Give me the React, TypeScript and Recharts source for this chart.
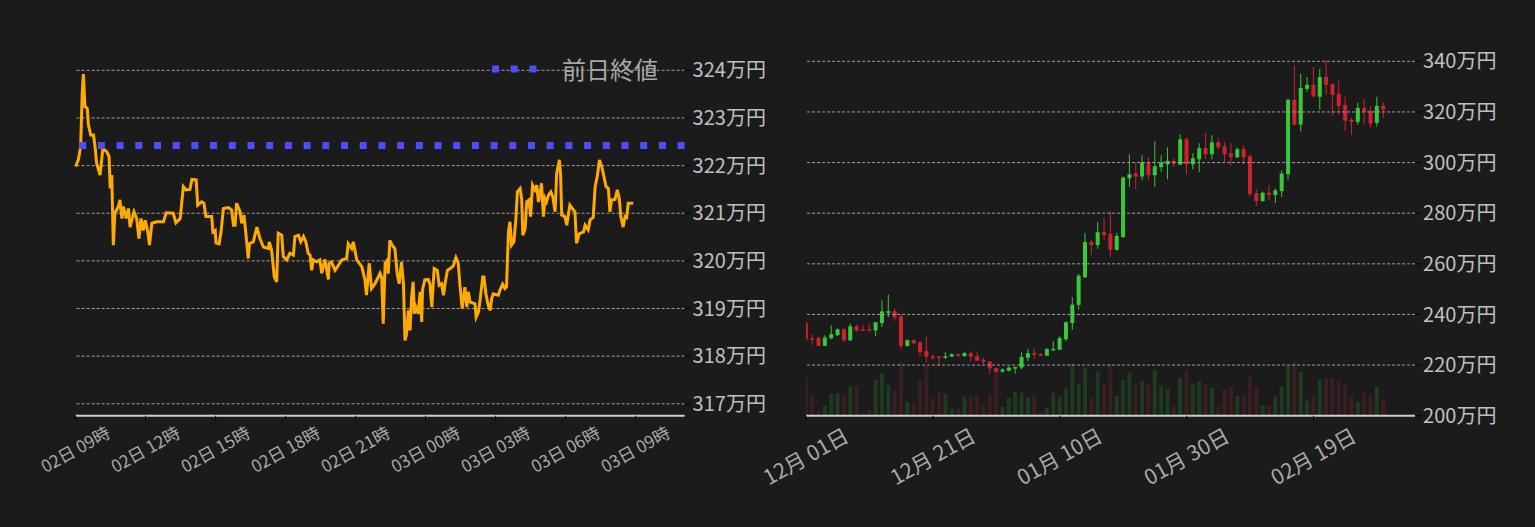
import {
  Bar,
  Cell,
  ComposedChart,
  Line,
  LineChart,
  ReferenceLine,
  XAxis,
  YAxis,
} from "recharts";

// ---- intraday (left) : minutes after 02日 09:00, price in 万円 ----
const minutes = [
  0, 7, 13, 17, 20, 24, 30, 33, 39, 46, 50, 54, 63, 70, 80, 86, 89, 93, 97, 101,
  110, 114, 119, 123, 130, 136, 140, 150, 157, 163, 168, 174, 179, 185, 190, 196, 209, 226, 233, 251,
  258, 269, 277, 284, 294, 299, 310, 314, 324, 330, 335, 350, 353, 359, 361, 369, 374, 380, 393, 401,
  406, 410, 414, 423, 427, 433, 437, 444, 447, 457, 466, 474, 483, 496, 498, 504, 511, 517, 521, 530,
  534, 543, 551, 560, 564, 573, 579, 586, 592, 598, 603, 607, 611, 620, 628, 633, 641, 650, 652, 658,
  667, 676, 684, 697, 701, 710, 714, 723, 736, 744, 748, 755, 761, 770, 783, 787, 791, 796, 802, 804,
  808, 814, 821, 827, 832, 838, 843, 847, 851, 856, 860, 864, 868, 871, 875, 881, 886, 890, 892, 898,
  907, 911, 916, 922, 930, 935, 941, 946, 950, 956, 963, 971, 978, 984, 988, 994, 1001, 1006, 1010, 1014,
  1027, 1030, 1036, 1040, 1047, 1050, 1055, 1061, 1066, 1070, 1074, 1087, 1091, 1098, 1104, 1108, 1113, 1117, 1121, 1127,
  1132, 1136, 1143, 1147, 1150, 1156, 1160, 1166, 1170, 1175, 1181, 1186, 1190, 1194, 1198, 1203, 1207, 1211, 1216, 1222,
  1227, 1233, 1237, 1244, 1247, 1250, 1258, 1263, 1267, 1271, 1280, 1284, 1288, 1295, 1306, 1310, 1318, 1323, 1331, 1336,
  1342, 1347, 1353, 1357, 1364, 1370, 1374, 1378, 1387, 1393, 1398, 1402, 1408, 1413, 1417, 1421, 1434,
];
const prices = [
  321.98, 322.12, 322.4, 323.52, 323.92, 323.24, 323.2, 322.85, 322.64, 322.64, 322.4, 322.05, 321.8, 322.36, 322.29, 322.19, 321.52, 321.8, 320.33, 321.0,
  321.14, 321.28, 320.89, 321.14, 320.89, 321.1, 320.71, 321.03, 320.89, 320.47, 320.89, 320.64, 320.85, 320.64, 320.33, 320.79, 320.82, 320.82, 321.01, 321.0,
  320.8, 320.89, 321.56, 321.49, 321.5, 321.71, 321.7, 321.17, 321.24, 321.21, 320.93, 320.93, 320.61, 320.64, 320.38, 320.36, 320.61, 321.1, 321.12, 321.07,
  320.75, 320.75, 321.21, 321.03, 320.79, 320.96, 320.64, 320.05, 320.36, 320.4, 320.71, 320.47, 320.29, 320.26, 320.4, 320.23, 319.66, 319.56, 320.58, 320.54,
  320.09, 320.02, 320.16, 320.12, 320.51, 320.54, 320.4, 320.51, 320.4, 320.16, 320.12, 319.8, 320.02, 319.98, 320.02, 319.74, 320.03, 319.61, 319.95, 319.98,
  319.8, 319.91, 320.02, 320.05, 320.36, 320.26, 320.4, 320.02, 319.88, 319.6, 319.28, 319.95, 319.42, 319.52, 319.74, 319.66, 318.68, 319.95, 320.02, 319.73,
  320.43, 320.33, 320.26, 319.73, 319.52, 319.98, 319.52, 318.33, 318.47, 318.96, 318.54, 319.24, 319.56, 318.89, 319.03, 318.89, 319.35, 318.72, 319.39, 319.6,
  319.61, 319.52, 319.03, 319.84, 319.8, 319.49, 319.52, 319.28, 319.52, 319.8, 319.84, 319.89, 320.07, 319.95, 319.52, 319.0, 319.45, 319.03, 319.35, 319.14,
  319.1, 318.82, 318.93, 319.17, 319.66, 319.66, 319.31, 319.07, 318.96, 319.21, 319.31, 319.28, 319.38, 319.51, 319.42, 319.45, 320.61, 320.82, 320.33, 320.4,
  320.86, 321.45, 321.52, 321.31, 320.54, 320.68, 321.24, 321.28, 320.93, 321.59, 321.49, 321.59, 321.24, 321.38, 321.63, 320.93, 321.31, 321.24, 321.38, 321.45,
  321.35, 321.03, 321.83, 322.12, 321.83, 320.96, 320.93, 320.75, 320.96, 321.17, 321.07, 321.03, 320.37, 320.57, 320.61, 320.75, 320.65, 320.86, 320.91, 321.56,
  321.8, 322.12, 321.98, 321.83, 321.56, 321.52, 321.03, 321.28, 321.29, 321.49, 321.31, 320.93, 320.71, 320.93, 320.91, 321.21, 321.21,
];
const prevClose = 322.42;
const intradayTicks = [0, 180, 360, 540, 720, 900, 1080, 1260, 1440];
const intradayTickLabels = [
  "02日 09時", "02日 12時", "02日 15時", "02日 18時", "02日 21時",
  "03日 00時", "03日 03時", "03日 06時", "03日 09時",
];
const intradayPriceTicks = [317, 318, 319, 320, 321, 322, 323, 324];

// ---- daily (right) : one candle per day from 12月 01日, price in 万円 ----
const opens = [
  236.7, 230.6, 230.6, 227.6, 230.6, 231.8, 234.1, 229.8, 235.3, 234.1, 234.1, 233.7, 236.6, 240.6, 241.3, 239.2, 227.6, 229.8, 229.0, 225.5,
  223.4, 223.4, 222.9, 223.3, 224.3, 223.5, 224.7, 223.5, 222.1, 221.4, 218.8, 217.4, 217.8, 218.6, 219.0, 222.9, 224.7, 224.3, 223.7, 225.8,
  226.1, 230.2, 236.6, 243.8, 254.7, 268.6, 267.4, 272.5, 271.8, 265.5, 270.6, 293.8, 295.8, 294.5, 300.1, 295.0, 298.2, 299.3, 300.7, 299.2,
  309.2, 299.3, 301.3, 305.7, 303.3, 308.0, 306.4, 303.7, 302.1, 305.3, 302.5, 287.9, 284.8, 288.1, 287.2, 288.7, 295.4, 324.8, 315.0, 329.1,
  330.7, 326.0, 333.8, 331.1, 327.2, 322.8, 316.9, 316.1, 321.6, 320.5, 315.7, 322.4,
];
const highs = [
  237.4, 232.2, 231.3, 231.8, 235.7, 234.5, 234.8, 236.5, 236.1, 235.7, 236.1, 237.0, 245.5, 247.8, 242.3, 240.3, 230.1, 230.2, 229.4, 231.4,
  224.2, 223.5, 225.1, 224.7, 224.5, 225.1, 225.5, 225.1, 222.8, 221.6, 219.1, 218.7, 219.5, 219.4, 225.1, 226.3, 226.3, 224.8, 226.7, 229.4,
  231.4, 237.3, 246.9, 256.0, 272.2, 269.4, 276.5, 278.1, 280.8, 272.2, 294.5, 303.3, 300.0, 302.9, 302.1, 308.4, 302.9, 306.0, 301.7, 311.2,
  310.0, 303.7, 307.6, 311.6, 310.8, 309.6, 308.0, 307.6, 306.0, 306.8, 303.3, 289.5, 288.5, 291.0, 289.8, 296.9, 325.2, 338.2, 335.0, 333.8,
  337.8, 337.0, 340.5, 331.2, 332.3, 326.0, 317.7, 323.6, 325.2, 322.4, 326.0, 324.0,
];
const lows = [
  229.5, 228.0, 227.5, 227.5, 230.2, 231.5, 229.2, 229.4, 233.1, 233.7, 233.7, 231.5, 235.0, 238.9, 237.5, 226.4, 227.2, 228.1, 223.3, 220.9,
  222.1, 219.7, 222.4, 223.2, 222.9, 223.3, 221.3, 221.6, 220.4, 216.6, 216.9, 217.0, 217.4, 216.6, 218.2, 221.6, 222.4, 223.5, 223.7, 225.8,
  226.0, 229.4, 233.9, 241.9, 254.4, 263.5, 265.9, 269.4, 262.7, 265.3, 270.2, 290.3, 289.5, 293.0, 293.0, 290.3, 296.2, 293.4, 298.2, 298.9,
  295.4, 297.4, 296.2, 301.3, 301.3, 305.3, 300.1, 298.9, 301.7, 299.3, 286.7, 282.8, 284.5, 285.2, 284.0, 286.4, 293.3, 314.6, 312.3, 327.9,
  325.6, 320.9, 326.8, 318.5, 318.9, 312.6, 311.0, 314.9, 314.9, 313.8, 314.2, 317.7,
];
const closes = [
  230.2, 230.3, 227.6, 230.9, 232.2, 234.1, 229.8, 235.3, 233.7, 233.9, 233.9, 236.9, 241.2, 241.3, 238.8, 227.6, 229.8, 228.6, 225.2, 223.3,
  223.2, 222.9, 223.5, 224.3, 223.7, 224.7, 223.3, 221.7, 221.3, 218.7, 217.3, 218.2, 219.0, 219.2, 223.2, 224.7, 224.1, 224.1, 226.3, 226.4,
  230.7, 236.9, 243.9, 255.3, 268.6, 267.4, 272.5, 271.4, 265.5, 271.0, 294.1, 295.4, 294.5, 300.1, 295.0, 298.5, 300.1, 300.7, 299.6, 309.2,
  299.3, 301.7, 305.7, 303.3, 308.0, 306.0, 303.3, 302.1, 305.3, 302.1, 287.5, 284.8, 288.1, 287.2, 289.0, 295.7, 324.8, 315.0, 329.5, 330.7,
  326.4, 333.8, 330.7, 326.8, 322.4, 316.5, 316.1, 321.6, 320.1, 315.4, 322.4, 320.9,
];
// relative volume (bar heights)
const volumes = [
  39, 20, 5, 10, 22, 22, 21, 29, 30, 3, 6, 36, 42, 31, 25, 54, 14, 13, 35, 50,
  17, 24, 22, 7, 8, 19, 19, 20, 10, 22, 43, 9, 18, 24, 23, 18, 20, 3, 8, 23,
  19, 27, 52, 32, 48, 18, 44, 32, 52, 20, 36, 43, 33, 35, 31, 46, 30, 27, 10, 38,
  45, 32, 34, 31, 28, 9, 27, 29, 20, 21, 39, 29, 10, 10, 19, 29, 50, 54, 44, 15,
  22, 36, 38, 38, 35, 31, 21, 14, 23, 20, 29, 17,
];
const dailyTicks = [0, 20, 40, 60, 80];
const dailyTickLabels = ["12月 01日", "12月 21日", "01月 10日", "01月 30日", "02月 19日"];
const dailyPriceTicks = [200, 220, 240, 260, 280, 300, 320, 340];

const BG = "#1b1b1b";
const ORANGE = "#ffaa00";
const BLUE = "#4d4dff";
const UP = "#38c938";
const DOWN = "#cf2230";
const UP_VOL = "#1f3b1f";
const DOWN_VOL = "#3b1e21";
const GRID = "#a0a0a0";
const FONT = "'Noto Sans CJK JP', 'Noto Sans', sans-serif";

const intraday = minutes.map((t, i) => ({ t, price: prices[i] }));

const daily = opens.map((open, i) => ({
  day: i,
  open,
  high: highs[i],
  low: lows[i],
  close: closes[i],
  range: [lows[i], highs[i]],
  volume: volumes[i],
}));

function IntradayTick({ x, y, payload }: any) {
  const label = intradayTickLabels[intradayTicks.indexOf(payload.value)] ?? "";
  return (
    <g transform={`translate(${x},${y + 28})`}>
      <text transform="rotate(-29)" textAnchor="middle" dy="0.35em" fill="#aaaaaa" fontSize={17}>
        {label}
      </text>
    </g>
  );
}

function DailyTick({ x, y, payload }: any) {
  const label = dailyTickLabels[dailyTicks.indexOf(payload.value)] ?? "";
  return (
    <g transform={`translate(${x},${y + 35})`}>
      <text transform="rotate(-29)" textAnchor="middle" dy="0.35em" fill="#aaaaaa" fontSize={21}>
        {label}
      </text>
    </g>
  );
}

function Candle(props: any) {
  const { x, width, payload } = props;
  let { y, height } = props;
  if (height < 0) {
    y += height;
    height = -height;
  }
  const { open, close, high, low } = payload;
  const span = high - low || 1;
  const toY = (v: number) => y + ((high - v) / span) * height;
  const color = close >= open ? UP : DOWN;
  const top = toY(Math.max(open, close));
  const bottom = toY(Math.min(open, close));
  const cx = x + width / 2;
  return (
    <g>
      <line x1={cx} x2={cx} y1={y} y2={y + height} stroke={color} strokeWidth={1} />
      <rect x={x} y={top} width={width} height={Math.max(bottom - top, 1.5)} fill={color} />
    </g>
  );
}

const yTick = { fill: "#c0c0c0", fontSize: 20 };

export default function App() {
  return (
    <div
      style={{
        position: "absolute",
        left: 0,
        top: 0,
        width: 1535,
        height: 527,
        background: BG,
        fontFamily: FONT,
        overflow: "hidden",
      }}
    >
      <div style={{ position: "absolute", left: 0, top: 0 }}>
        <LineChart
          width={767}
          height={527}
          data={intraday}
          margin={{ top: 46.5, right: 0, bottom: 51.3, left: 75.6 }}
        >
          <XAxis
            dataKey="t"
            type="number"
            domain={[0, 1566]}
            ticks={intradayTicks}
            interval={0}
            height={60}
            axisLine={{ stroke: "#d0d0d0", strokeWidth: 2 }}
            tickLine={{ stroke: "#000" }}
            tickSize={4}
            tick={<IntradayTick />}
          />
          <YAxis
            orientation="right"
            domain={[316.75, 324.5]}
            ticks={intradayPriceTicks}
            interval={0}
            width={82.4}
            axisLine={false}
            tickLine={{ stroke: "#000" }}
            tick={yTick}
            tickFormatter={(v) => `${v}万円`}
          />
          {intradayPriceTicks.map((v) => (
            <ReferenceLine key={v} y={v} stroke={GRID} strokeWidth={1} strokeDasharray="3 2" />
          ))}
          <Line
            dataKey="price"
            type="linear"
            stroke={ORANGE}
            strokeWidth={3}
            dot={false}
            isAnimationActive={false}
          />
          <ReferenceLine
            y={prevClose}
            stroke={BLUE}
            strokeWidth={7}
            strokeDasharray="7 11.7"
          />
        </LineChart>
        <div
          style={{
            position: "absolute",
            left: 492.3,
            top: 57.3,
            height: 24,
            display: "flex",
            alignItems: "center",
          }}
        >
          <svg width={46} height={10} style={{ display: "block" }}>
            <line x1={0} x2={46} y1={5} y2={5} stroke={BLUE} strokeWidth={7} strokeDasharray="7 11.7" />
          </svg>
          <span
            style={{
              marginLeft: 23.7,
              color: "#a8a8a8",
              fontSize: 24,
              lineHeight: "24px",
              whiteSpace: "nowrap",
            }}
          >
            前日終値
          </span>
        </div>
      </div>

      <div style={{ position: "absolute", left: 700, top: 0 }}>
        <ComposedChart
          width={835}
          height={527}
          data={daily}
          margin={{ top: 36, right: 0, bottom: 51.3, left: 106 }}
        >
          <XAxis
            dataKey="day"
            type="number"
            domain={[0, 96]}
            ticks={dailyTicks}
            interval={0}
            allowDataOverflow
            height={60}
            axisLine={{ stroke: "#d0d0d0", strokeWidth: 2 }}
            tickLine={{ stroke: "#000" }}
            tickSize={4}
            tick={<DailyTick />}
          />
          <XAxis
            xAxisId="vol"
            dataKey="day"
            type="number"
            domain={[0, 96]}
            ticks={dailyTicks}
            allowDataOverflow
            hide
          />
          <YAxis
            orientation="right"
            domain={[200, 350]}
            ticks={dailyPriceTicks}
            interval={0}
            width={119.9}
            axisLine={false}
            tickLine={{ stroke: "#000" }}
            tick={yTick}
            tickFormatter={(v) => `${v}万円`}
          />
          <YAxis yAxisId="vol" domain={[0, 380]} hide />
          {dailyPriceTicks.slice(1).map((v) => (
            <ReferenceLine key={v} y={v} stroke={GRID} strokeWidth={1} strokeDasharray="3 2" />
          ))}
          <Bar
            dataKey="volume"
            xAxisId="vol"
            yAxisId="vol"
            barSize={4}
            isAnimationActive={false}
          >
            {daily.map((d) => (
              <Cell key={d.day} fill={d.close >= d.open ? UP_VOL : DOWN_VOL} />
            ))}
          </Bar>
          <Bar dataKey="range" barSize={4} shape={<Candle />} isAnimationActive={false} />
        </ComposedChart>
      </div>
    </div>
  );
}
